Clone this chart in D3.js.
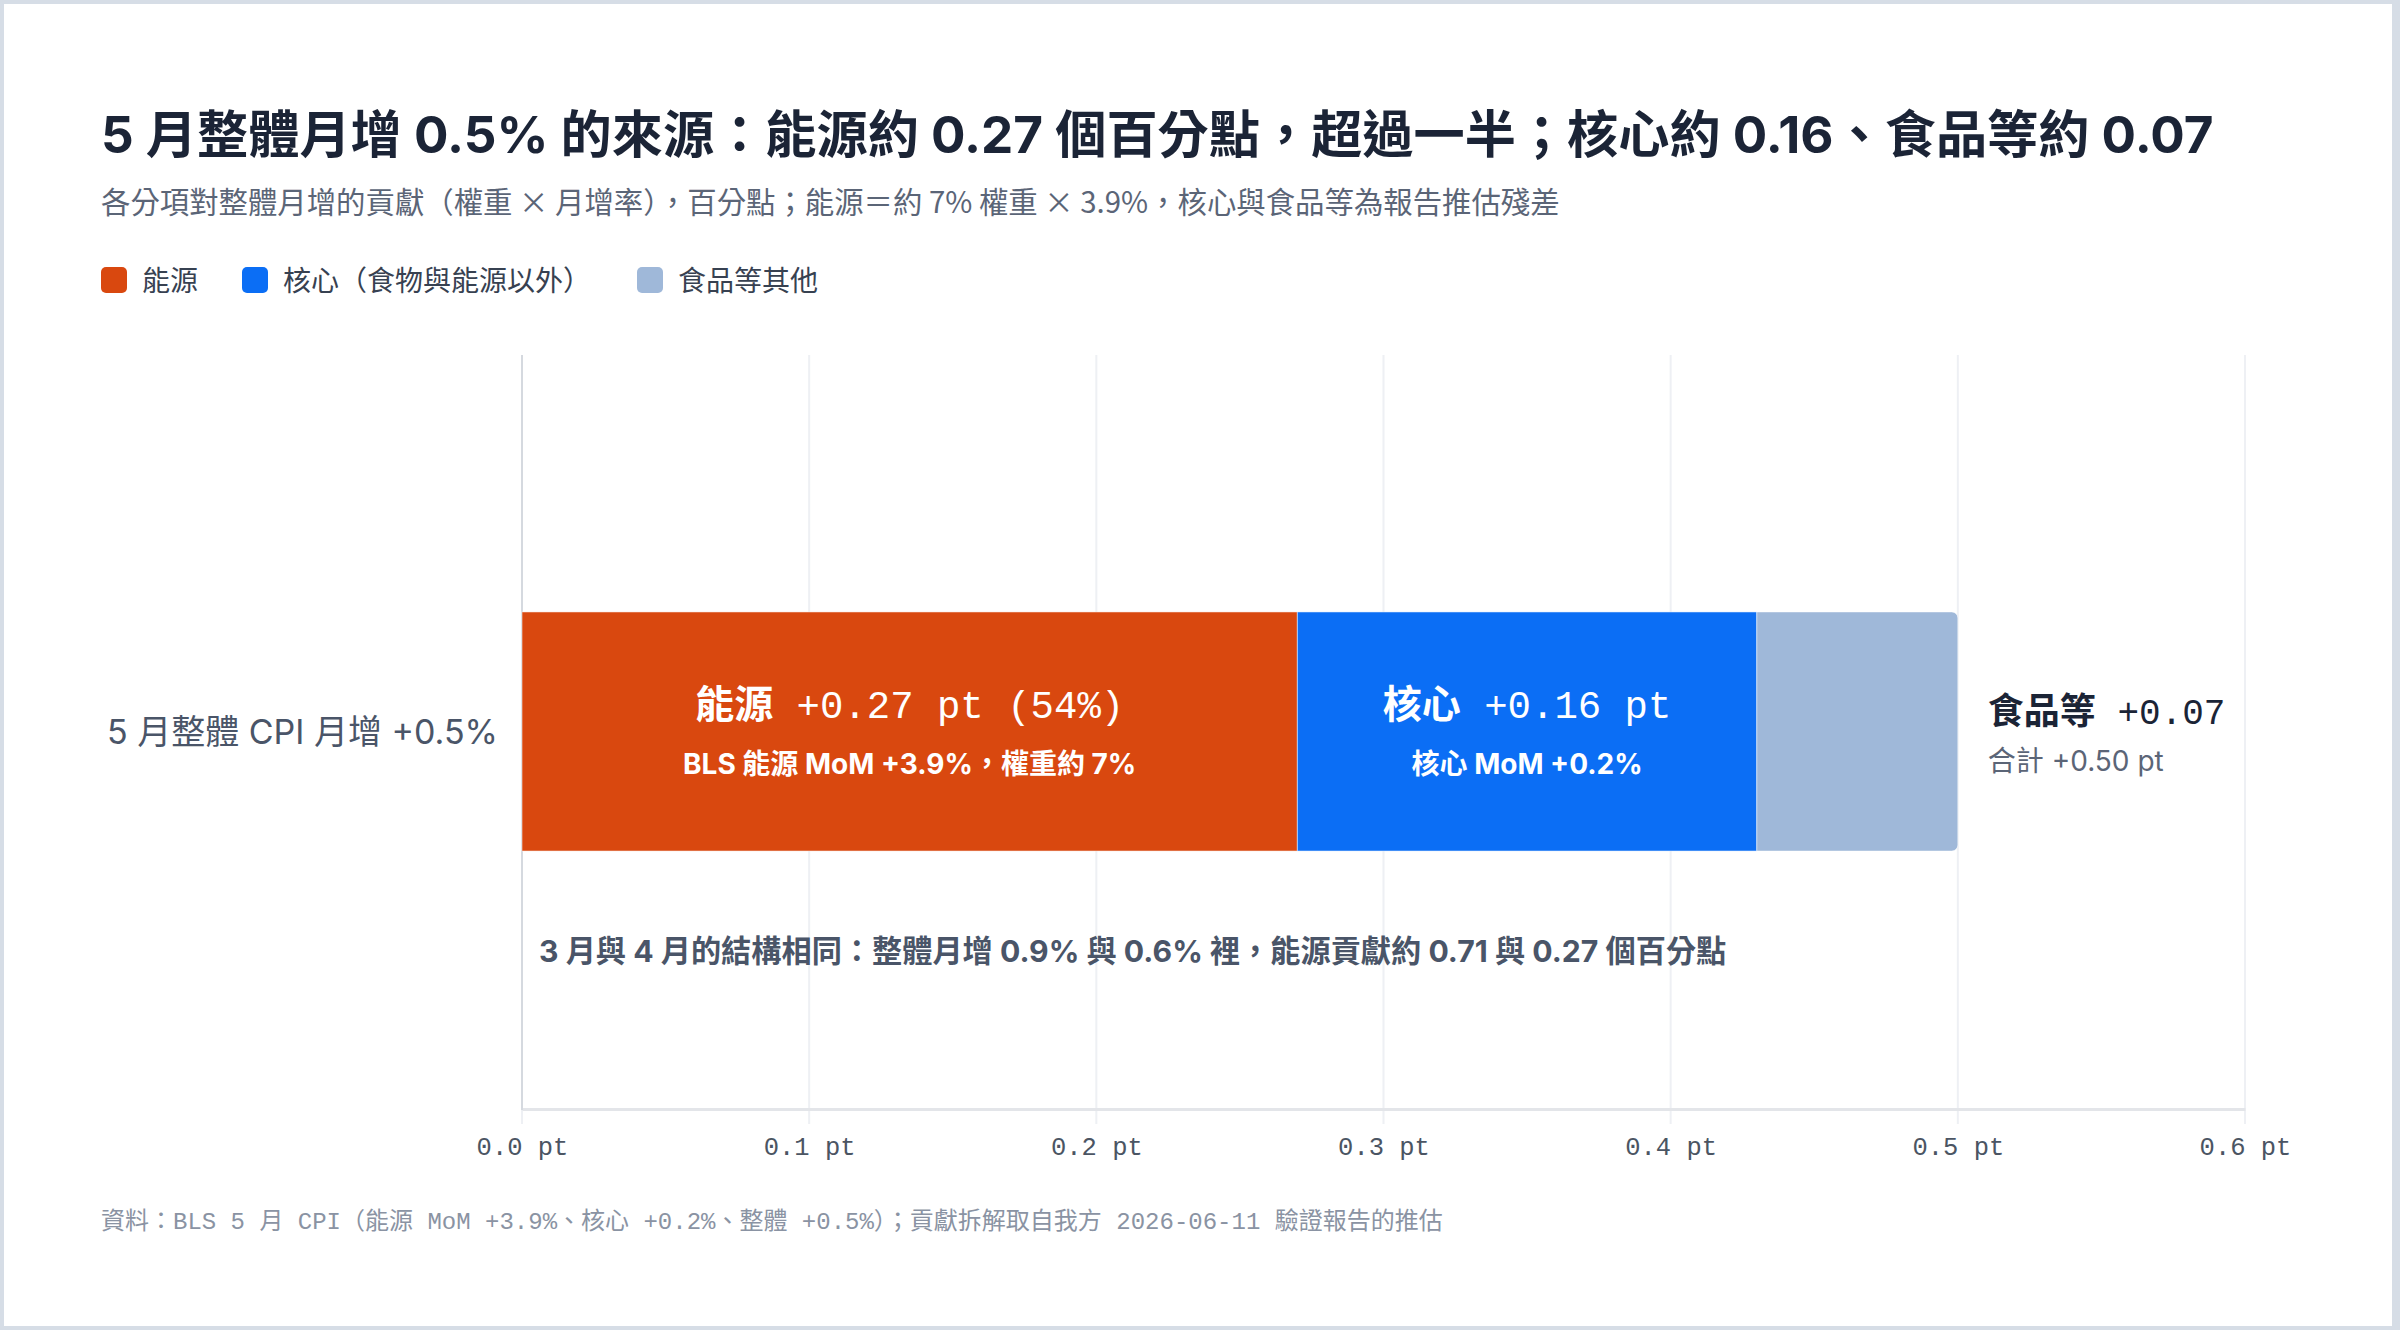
<!DOCTYPE html>
<html><head><meta charset="utf-8">
<script src="https://cdn.jsdelivr.net/npm/d3@7"></script>
<style>
body{margin:0;background:#d6dde6;}
svg{display:block}
text{white-space:pre}
</style>
</head><body><svg id="c" width="2400" height="1330"></svg>
<script>
// ---- data ----
const categories = ["5 月整體 CPI 月增 +0.5%"];
const seriesNames = ["能源", "核心（食物與能源以外）", "食品等其他"];
const seriesShort = ["能源", "核心", "食品等"];
const seriesValues = [0.27, 0.16, 0.07];
const seriesShares = ["(54%)", "", ""];
const seriesSubLabels = ["BLS 能源 MoM +3.9%，權重約 7%", "核心 MoM +0.2%", ""];
const seriesColors = ["#d9480f", "#0b6ef5", "#9fb8d9"];
const tickValues = [0, 0.1, 0.2, 0.3, 0.4, 0.5, 0.6];
const totalLabel = "合計 +0.50 pt";
const titleText = "5 月整體月增 0.5% 的來源：能源約 0.27 個百分點，超過一半；核心約 0.16、食品等約 0.07";
const subtitleText = "各分項對整體月增的貢獻（權重 × 月增率），百分點；能源＝約 7% 權重 × 3.9%，核心與食品等為報告推估殘差";
const noteText = "3 月與 4 月的結構相同：整體月增 0.9% 與 0.6% 裡，能源貢獻約 0.71 與 0.27 個百分點";
const sourceText = "資料：BLS 5 月 CPI（能源 MoM +3.9%、核心 +0.2%、整體 +0.5%）；貢獻拆解取自我方 2026-06-11 驗證報告的推估";

const SANS = "Inter, 'Noto Sans CJK TC', 'Noto Sans', sans-serif";
const CJK = "'Noto Sans CJK TC', 'Noto Sans', sans-serif";
const MONO = "'Liberation Mono', 'Noto Sans CJK TC', monospace";

const svg = d3.select("#c");
svg.append("rect").attr("x", 4).attr("y", 4).attr("width", 2388).attr("height", 1322).attr("fill", "#fff");

// title & subtitle
svg.append("text").attr("x", 101).attr("y", 153).attr("font-family", SANS)
  .attr("font-size", 51.2).attr("font-weight", 700).attr("fill", "#1b2436").text(titleText);
svg.append("text").attr("x", 101).attr("y", 213).attr("font-family", CJK)
  .attr("font-size", 29.4).attr("fill", "#5b6577").text(subtitleText);

// legend
const legendX = [101, 242, 637];
const lg = svg.append("g");
seriesNames.forEach((n, i) => {
  lg.append("rect").attr("x", legendX[i]).attr("y", 267).attr("width", 26).attr("height", 26)
    .attr("rx", 5).attr("fill", seriesColors[i]);
  lg.append("text").attr("x", legendX[i] + 41).attr("y", 291).attr("font-family", CJK)
    .attr("font-size", 28).attr("fill", "#374151").text(n);
});

// scales
const x = d3.scaleLinear().domain([0, 0.6]).range([522, 2245]);
const y = d3.scaleBand().domain(categories).range([355, 1108]).paddingInner(0.518).paddingOuter(0.518);

// grid
svg.append("g").selectAll("line").data(tickValues).join("line")
  .attr("x1", d => x(d)).attr("x2", d => x(d)).attr("y1", 355).attr("y2", 1124)
  .attr("stroke", "#eef0f4").attr("stroke-width", 2);

// x axis
const axis = d3.axisBottom(x).tickValues(tickValues).tickFormat(d => d.toFixed(1) + " pt")
  .tickSize(0).tickPadding(28);
const ag = svg.append("g").attr("transform", "translate(0,1109)").call(axis);
ag.select(".domain").attr("stroke", "#e3e5e9").attr("stroke-width", 3);
ag.selectAll(".tick text").attr("font-family", MONO).attr("font-size", 25.5).attr("fill", "#4b5563");

// left axis line
svg.append("line").attr("x1", x(0)).attr("x2", x(0)).attr("y1", 355).attr("y2", 1110)
  .attr("stroke", "#d5d9df").attr("stroke-width", 2);

// category label
const cat = categories[0];
const yc = y(cat) + y.bandwidth() / 2;
svg.append("text").attr("x", x(0) - 24).attr("y", yc + 12).attr("text-anchor", "end")
  .attr("font-family", SANS).attr("font-size", 34).attr("fill", "#4a5568").text(cat);

// stacked segments
const stack = [];
let acc = 0;
seriesValues.forEach((v, i) => { stack.push({ i, x0: acc, x1: acc + v, v }); acc += v; });

const bars = svg.append("g");
const by0 = y(cat), bh = y.bandwidth();
stack.forEach(s => {
  const x0 = x(s.x0), x1 = x(s.x1);
  if (s.i === stack.length - 1) {
    const r = 6;
    const p = d3.path();
    p.moveTo(x0, by0); p.lineTo(x1 - r, by0); p.arcTo(x1, by0, x1, by0 + r, r);
    p.lineTo(x1, by0 + bh - r); p.arcTo(x1, by0 + bh, x1 - r, by0 + bh, r);
    p.lineTo(x0, by0 + bh); p.closePath();
    bars.append("path").attr("d", p.toString()).attr("fill", seriesColors[s.i])
      .attr("stroke", "#fff").attr("stroke-width", 1).attr("stroke-opacity", 0.5);
  } else {
    bars.append("rect").attr("x", x0).attr("y", by0).attr("width", x1 - x0).attr("height", bh)
      .attr("fill", seriesColors[s.i]).attr("stroke", "#fff").attr("stroke-width", 1).attr("stroke-opacity", 0.5);
  }
});

// labels inside segments
stack.slice(0, 2).forEach(s => {
  const cx = (x(s.x0) + x(s.x1)) / 2;
  const t = svg.append("text").attr("x", cx).attr("y", yc - 14).attr("text-anchor", "middle")
    .attr("fill", "#fff").attr("font-weight", 700).attr("font-size", 39);
  t.append("tspan").attr("font-family", CJK).text(seriesShort[s.i]);
  t.append("tspan").attr("font-family", MONO).attr("font-weight", 400)
    .text(" +" + s.v.toFixed(2) + " pt" + (seriesShares[s.i] ? " " + seriesShares[s.i] : ""));
  svg.append("text").attr("x", cx).attr("y", yc + 42).attr("text-anchor", "middle")
    .attr("fill", "#fff").attr("font-weight", 700).attr("font-size", 28).attr("font-family", SANS)
    .text(seriesSubLabels[s.i]);
});

// right label
const last = stack[stack.length - 1];
const rx = x(last.x1) + 30;
const rt = svg.append("text").attr("x", rx).attr("y", yc - 8).attr("fill", "#1b2436")
  .attr("font-weight", 700).attr("font-size", 36);
rt.append("tspan").attr("font-family", CJK).text(seriesShort[last.i]);
rt.append("tspan").attr("font-family", MONO).attr("font-weight", 400).text(" +" + last.v.toFixed(2));
svg.append("text").attr("x", rx).attr("y", yc + 39).attr("fill", "#5b6577")
  .attr("font-size", 28).attr("font-family", SANS).text(totalLabel);

// note
svg.append("text").attr("x", x(0) + 17).attr("y", 962).attr("fill", "#4a5568")
  .attr("font-weight", 700).attr("font-size", 30.2).attr("font-family", SANS).text(noteText);

// source
svg.append("text").attr("x", 101).attr("y", 1229).attr("fill", "#8a93a3")
  .attr("font-size", 24).attr("font-family", MONO).text(sourceText);
</script>
</body></html>
